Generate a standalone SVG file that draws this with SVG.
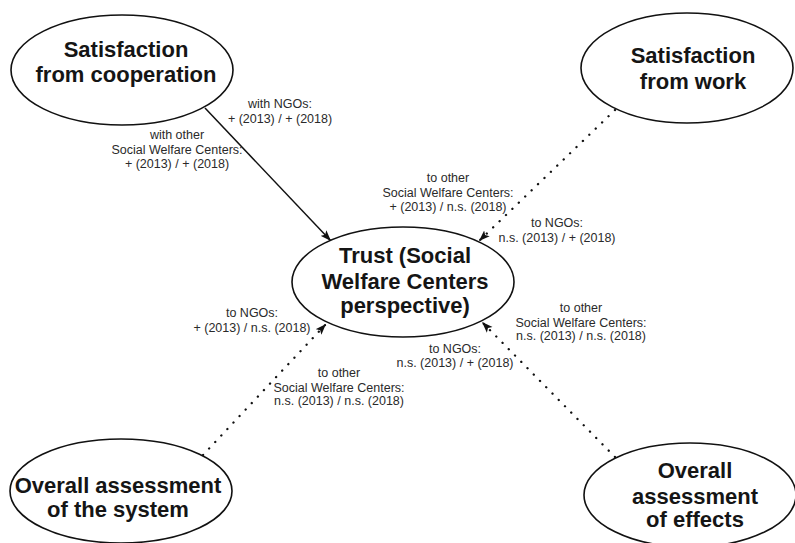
<svg xmlns="http://www.w3.org/2000/svg" width="795" height="543" viewBox="0 0 795 543">
<style>
.node ellipse{fill:#fff;stroke:#111;stroke-width:1.6}
.nt{font-family:"Liberation Sans",Arial,sans-serif;font-weight:bold;font-size:22px;fill:#151515;text-anchor:middle}
.lb{font-family:"Liberation Sans",Arial,sans-serif;font-size:12.5px;fill:#2a2a2a;text-anchor:middle}
.solid{stroke:#111;stroke-width:1.5;fill:none}
.dot{stroke:#111;stroke-width:2.3;fill:none;stroke-dasharray:0.1 8.8;stroke-linecap:round}
</style>
<defs>
<marker id="ah" markerUnits="userSpaceOnUse" markerWidth="12" markerHeight="9" refX="11" refY="4" orient="auto" viewBox="0 0 12 8">
<path d="M0,0 L11,4 L0,8 L2.5,4 z" fill="#111"/>
</marker>
</defs>
<rect width="795" height="543" fill="#fff"/>
<g id="connectors">
<line class="solid" x1="205" y1="108" x2="331" y2="241" marker-end="url(#ah)"/>
<line class="dot" x1="615" y1="110" x2="479" y2="241" marker-end="url(#ah)"/>
<line class="dot" x1="203" y1="455" x2="326" y2="324" marker-end="url(#ah)"/>
<line class="dot" x1="615" y1="457" x2="482" y2="322" marker-end="url(#ah)"/>
</g>
<g id="labels">
<text class="lb" x="280" y="108">with NGOs:</text>
<text class="lb" x="280" y="123">+ (2013) / + (2018)</text>
<text class="lb" x="177" y="139">with other</text>
<text class="lb" x="177" y="154">Social Welfare Centers:</text>
<text class="lb" x="177" y="168">+ (2013) / + (2018)</text>
<text class="lb" x="448" y="182">to other</text>
<text class="lb" x="448" y="197">Social Welfare Centers:</text>
<text class="lb" x="448" y="211">+ (2013) / n.s. (2018)</text>
<text class="lb" x="557" y="227">to NGOs:</text>
<text class="lb" x="557" y="242">n.s. (2013) / + (2018)</text>
<text class="lb" x="252" y="317">to NGOs:</text>
<text class="lb" x="252" y="332">+ (2013) / n.s. (2018)</text>
<text class="lb" x="339" y="377">to other</text>
<text class="lb" x="339" y="392">Social Welfare Centers:</text>
<text class="lb" x="339" y="405">n.s. (2013) / n.s. (2018)</text>
<text class="lb" x="581" y="312">to other</text>
<text class="lb" x="581" y="327">Social Welfare Centers:</text>
<text class="lb" x="581" y="340">n.s. (2013) / n.s. (2018)</text>
<text class="lb" x="455" y="353">to NGOs:</text>
<text class="lb" x="455" y="367">n.s. (2013) / + (2018)</text>
</g>
<g id="node-coop" class="node">
<ellipse cx="122" cy="70" rx="111" ry="55"/>
<text class="nt" x="126" y="57">Satisfaction</text>
<text class="nt" x="126" y="82">from cooperation</text>
</g>
<g id="node-work" class="node">
<ellipse cx="687" cy="68" rx="106" ry="55"/>
<text class="nt" x="693" y="63">Satisfaction</text>
<text class="nt" x="693" y="89">from work</text>
</g>
<g id="node-trust" class="node">
<ellipse cx="403" cy="282" rx="111" ry="55"/>
<text class="nt" x="405" y="263">Trust (Social</text>
<text class="nt" x="405" y="289">Welfare Centers</text>
<text class="nt" x="405" y="313">perspective)</text>
</g>
<g id="node-system" class="node">
<ellipse cx="121" cy="491" rx="111" ry="52"/>
<text class="nt" x="118" y="493">Overall assessment</text>
<text class="nt" x="118" y="517">of the system</text>
</g>
<g id="node-effects" class="node">
<ellipse cx="690" cy="495" rx="106" ry="52"/>
<text class="nt" x="695" y="478">Overall</text>
<text class="nt" x="695" y="504">assessment</text>
<text class="nt" x="695" y="527">of effects</text>
</g>
</svg>
